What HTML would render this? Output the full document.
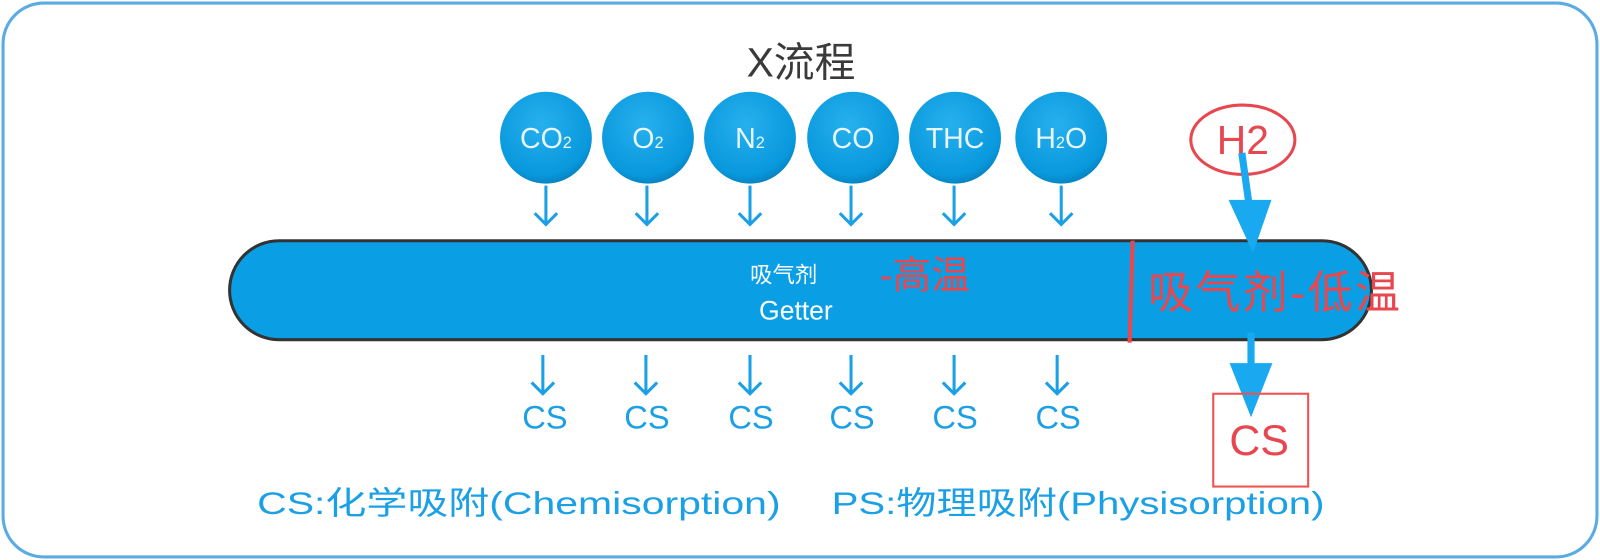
<!DOCTYPE html>
<html><head><meta charset="utf-8"><style>
html,body{margin:0;padding:0;background:#fff;}
svg{display:block;}
text{font-family:"Liberation Sans","Noto Sans CJK SC",sans-serif;}
</style></head><body>
<svg width="1600" height="560" viewBox="0 0 1568 549" preserveAspectRatio="none" xmlns="http://www.w3.org/2000/svg">
<defs>
<radialGradient id="g" cx="0.45" cy="0.35" r="0.7">
<stop offset="0" stop-color="#27b0ee"/><stop offset="0.8" stop-color="#0898dc"/><stop offset="1" stop-color="#0579b5"/>
</radialGradient>
</defs>
<rect x="3" y="3" width="1562" height="543" rx="40" fill="#fff" stroke="#5aabe2" stroke-width="3"/>
<text x="785" y="75" font-size="40" fill="#3a3a3a" text-anchor="middle">X流程</text>

<g font-size="28" fill="#e8f6ff" text-anchor="middle">
<circle cx="535" cy="135" r="45" fill="url(#g)"/>
<circle cx="635" cy="135" r="45" fill="url(#g)"/>
<circle cx="735" cy="135" r="45" fill="url(#g)"/>
<circle cx="836" cy="135" r="45" fill="url(#g)"/>
<circle cx="936" cy="135" r="45" fill="url(#g)"/>
<circle cx="1040" cy="135" r="45" fill="url(#g)"/>
<text x="535" y="145">CO<tspan font-size="16">2</tspan></text>
<text x="635" y="145">O<tspan font-size="16">2</tspan></text>
<text x="735" y="145">N<tspan font-size="16">2</tspan></text>
<text x="836" y="145">CO</text>
<text x="936" y="145">THC</text>
<text x="1040" y="145">H<tspan font-size="16">2</tspan>O</text>
</g>

<g stroke="#1ba0e6" stroke-width="3" fill="none">
<path d="M535 182V220M524 209L535 220L546 209"/>
<path d="M634 182V220M623 209L634 220L645 209"/>
<path d="M735 182V220M724 209L735 220L746 209"/>
<path d="M834 182V220M823 209L834 220L845 209"/>
<path d="M935 182V220M924 209L935 220L946 209"/>
<path d="M1040 182V220M1029 209L1040 220L1051 209"/>
<path d="M532 348V386M521 375L532 386L543 375"/>
<path d="M633 348V386M622 375L633 386L644 375"/>
<path d="M735 348V386M724 375L735 386L746 375"/>
<path d="M834 348V386M823 375L834 386L845 375"/>
<path d="M935 348V386M924 375L935 386L946 375"/>
<path d="M1036 348V386M1025 375L1036 386L1047 375"/>
</g>

<rect x="225" y="236" width="1119" height="97" rx="48.5" fill="#0a9fe4" stroke="#333" stroke-width="3"/>
<text x="768" y="277" font-size="22" fill="#fff" text-anchor="middle">吸气剂</text>
<text x="780" y="313" font-size="26" fill="#fff" text-anchor="middle">Getter</text>
<text x="862" y="283" font-size="38" fill="#e8474f">-高温</text>
<path d="M1110 236L1107 336" stroke="#e8474f" stroke-width="4"/>
<text x="1125" y="302" font-size="44" fill="#e8474f" textLength="247">吸气剂-低温</text>

<g font-size="32" fill="#1ba0e6" text-anchor="middle">
<text x="534" y="420">CS</text><text x="634" y="420">CS</text><text x="736" y="420">CS</text>
<text x="835" y="420">CS</text><text x="936" y="420">CS</text><text x="1037" y="420">CS</text>
</g>

<ellipse cx="1218" cy="137" rx="51" ry="34" fill="none" stroke="#e8474f" stroke-width="3"/>
<text x="1218" y="151" font-size="40" fill="#e8474f" text-anchor="middle">H2</text>
<path d="M1217 150L1224 200" stroke="#18a9f0" stroke-width="7"/>
<path d="M1204 196L1246 196L1228 248Z" fill="#18a9f0"/>
<path d="M1226 326L1226 360" stroke="#18a9f0" stroke-width="7"/>
<path d="M1205 356L1247 356L1226 409Z" fill="#18a9f0"/>
<rect x="1189" y="386" width="93" height="91" fill="none" stroke="#f05050" stroke-width="2"/>
<text x="1234" y="446" font-size="42" fill="#e8474f" text-anchor="middle">CS</text>

<text x="252" y="504" font-size="31" fill="#1ba0e6" textLength="513" lengthAdjust="spacingAndGlyphs">CS:化学吸附(Chemisorption)</text>
<text x="815" y="504" font-size="31" fill="#1ba0e6" textLength="483" lengthAdjust="spacingAndGlyphs">PS:物理吸附(Physisorption)</text>
</svg>
</body></html>
